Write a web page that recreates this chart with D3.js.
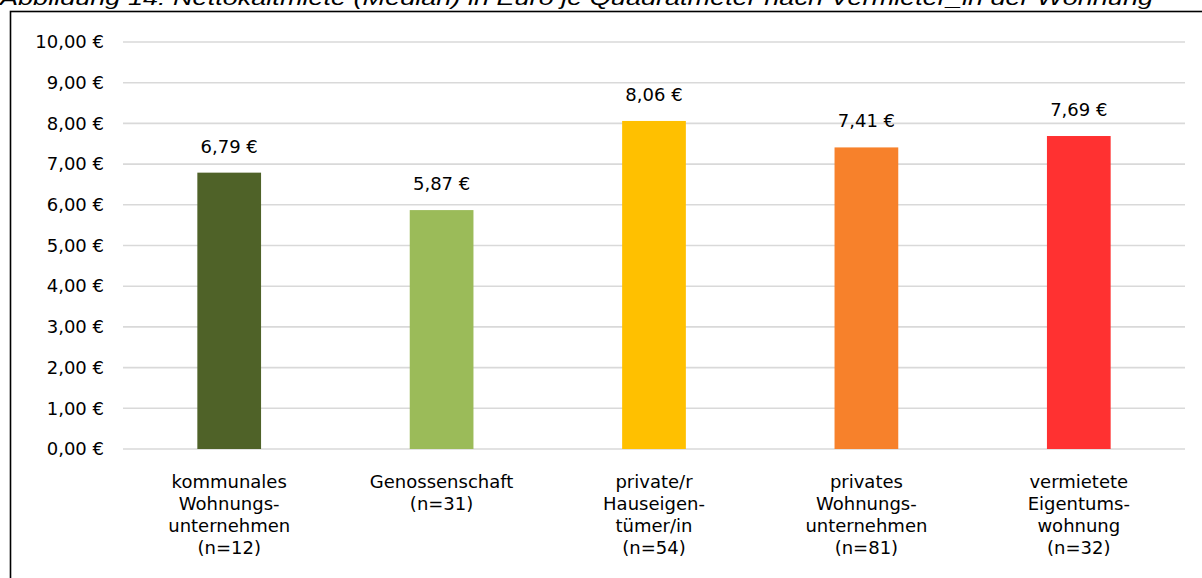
<!DOCTYPE html>
<html>
<head>
<meta charset="utf-8">
<script src="https://cdn.jsdelivr.net/npm/d3@7"></script>
<style>
  html, body { margin: 0; padding: 0; background: #fff; overflow: hidden; }
  svg { display: block; }
</style>
</head>
<body>
<svg id="chart" width="1202" height="578"></svg>
<script>
// Nettokaltmiete (Median) in Euro je Quadratmeter nach Vermieter_in
const categories = [
  ["kommunales", "Wohnungs-", "unternehmen", "(n=12)"],
  ["Genossenschaft", "(n=31)"],
  ["private/r", "Hauseigen-", "tümer/in", "(n=54)"],
  ["privates", "Wohnungs-", "unternehmen", "(n=81)"],
  ["vermietete", "Eigentums-", "wohnung", "(n=32)"]
];
const values = [6.79, 5.87, 8.06, 7.41, 7.69];
const colors = ["#4F6228", "#9BBB59", "#FFC000", "#F7812B", "#FF3131"];
const yTicks = [0, 1, 2, 3, 4, 5, 6, 7, 8, 9, 10];
const title = "Abbildung 14: Nettokaltmiete (Median) in Euro je Quadratmeter nach Vermieter_in der Wohnung";

const de = d3.formatLocale({ decimal: ",", thousands: ".", grouping: [3], currency: ["", " €"] });
const euro = v => de.format(",.2f")(v) + " €";

const svg = d3.select("#chart");
const font = "'DejaVu Sans', sans-serif";

// Caption line above the chart frame
svg.append("text")
  .attr("x", 0).attr("y", 5)
  .attr("font-family", "'Liberation Sans', Arial, sans-serif")
  .attr("font-style", "italic")
  .attr("font-size", 20)
  .attr("fill", "#000")
  .attr("textLength", 1153)
  .attr("lengthAdjust", "spacingAndGlyphs")
  .text(title);

// Chart frame
svg.append("rect")
  .attr("x", 10.5).attr("y", 11.5)
  .attr("width", 1300).attr("height", 700)
  .attr("fill", "none").attr("stroke", "#000").attr("stroke-width", 1.6);

const x = d3.scaleBand()
  .domain(d3.range(categories.length))
  .range([123, 1185])
  .paddingInner(0.7).paddingOuter(0.35);

const y = d3.scaleLinear().domain([0, 10]).range([449, 42]);

// Gridlines
svg.append("g")
  .selectAll("line")
  .data(yTicks)
  .join("line")
  .attr("x1", 123).attr("x2", 1185)
  .attr("y1", d => y(d)).attr("y2", d => y(d))
  .attr("stroke", "#d9d9d9").attr("stroke-width", 1.6);

// Y axis labels
const yAxis = d3.axisLeft(y).tickValues(yTicks).tickFormat(euro).tickSize(0).tickPadding(0);
svg.append("g")
  .attr("transform", "translate(104,0)")
  .call(yAxis)
  .call(g => g.select(".domain").remove())
  .call(g => g.selectAll("text")
    .attr("font-family", font).attr("font-size", 18).attr("fill", "#000"));

// Bars
svg.append("g")
  .selectAll("rect")
  .data(values)
  .join("rect")
  .attr("x", (d, i) => x(i))
  .attr("width", x.bandwidth())
  .attr("y", d => y(d))
  .attr("height", d => y(0) - y(d))
  .attr("fill", (d, i) => colors[i]);

// Value labels
svg.append("g")
  .selectAll("text")
  .data(values)
  .join("text")
  .attr("x", (d, i) => x(i) + x.bandwidth() / 2)
  .attr("y", d => y(d) - 20)
  .attr("text-anchor", "middle")
  .attr("font-family", font).attr("font-size", 18).attr("fill", "#000")
  .text(d => euro(d));

// Category labels
const cat = svg.append("g")
  .selectAll("text")
  .data(categories)
  .join("text")
  .attr("text-anchor", "middle")
  .attr("font-family", font).attr("font-size", 18).attr("fill", "#000");
cat.selectAll("tspan")
  .data((d, i) => d.map(line => ({ line, i })))
  .join("tspan")
  .attr("x", d => x(d.i) + x.bandwidth() / 2)
  .attr("y", (d, j) => 488 + j * 22)
  .text(d => d.line);
</script>
</body>
</html>
